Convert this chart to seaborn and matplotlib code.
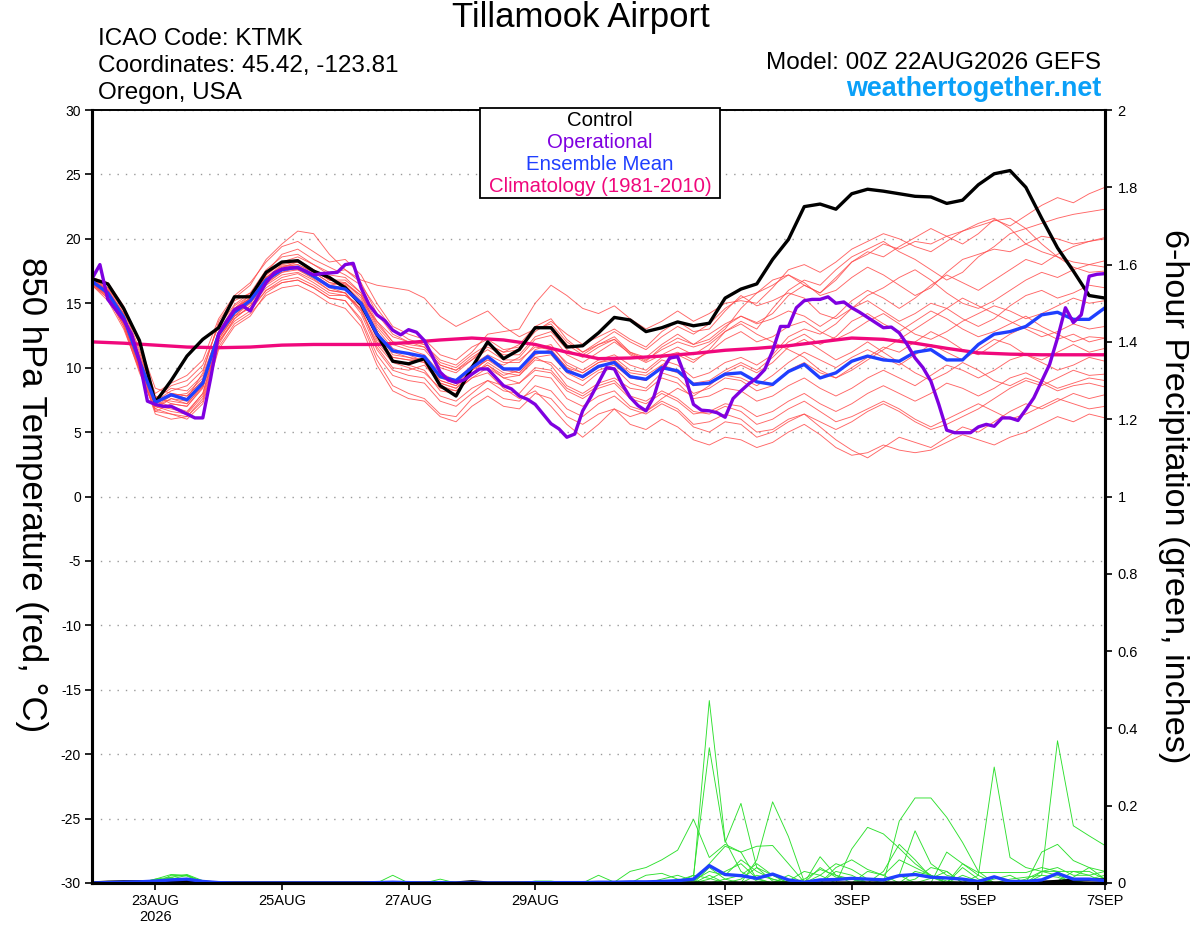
import numpy as np
import pandas as pd
import seaborn as sns
import matplotlib.pyplot as plt
from matplotlib.patches import Rectangle

sns.set_theme(style="white")
plt.rcParams['font.family'] = ['Liberation Sans', 'DejaVu Sans']
plt.rcParams['axes.unicode_minus'] = False
plt.rcParams['text.color'] = 'black'
plt.rcParams['xtick.color'] = 'black'
plt.rcParams['ytick.color'] = 'black'

# forecast hours after 00Z 22AUG2026
hours = list(range(0, 385, 6))
op_hours = list(range(0, 385, 3))
clim_hours = list(range(0, 385, 12))

tick_hours = [24, 72, 120, 168, 240, 288, 336, 384]
tick_labels = ['23AUG\n2026', '25AUG', '27AUG', '29AUG', '1SEP', '3SEP', '5SEP', '7SEP']
temp_ticks = list(range(-30, 31, 5))
precip_ticks = [0, 0.2, 0.4, 0.6, 0.8, 1, 1.2, 1.4, 1.6, 1.8, 2]
precip_tick_labels = ['0', '0.2', '0.4', '0.6', '0.8', '1', '1.2', '1.4', '1.6', '1.8', '2']

# 850 hPa temperature (C)
control_temp = [16.9, 16.5, 14.6, 12.1, 7.3, 9.0, 10.9, 12.2, 13.1, 15.5, 15.5, 17.4, 18.2, 18.3, 17.5, 17.0,
                16.2, 14.9, 12.6, 10.5, 10.3, 10.7, 8.6, 7.8, 10.0, 12.0, 10.7, 11.4, 13.1, 13.1, 11.6, 11.7,
                12.7, 13.9, 13.7, 12.8, 13.1, 13.55, 13.25, 13.45, 15.4, 16.1, 16.5, 18.4, 19.95, 22.5, 22.7, 22.3,
                23.5, 23.85, 23.7, 23.5, 23.3, 23.25, 22.75, 23.0, 24.2, 25.05, 25.3, 24.0, 21.6, 19.3, 17.5, 15.6,
                15.4]

mean_temp = [16.7, 15.8, 13.9, 10.5, 7.3, 7.9, 7.5, 8.8, 12.6, 14.3, 15.2, 16.8, 17.6, 17.8, 17.1, 16.3,
             16.1, 15.0, 12.6, 11.3, 11.1, 10.85, 9.3, 9.0, 10.0, 10.85, 9.9, 9.9, 11.2, 11.2, 9.75, 9.3,
             10.1, 10.4, 9.3, 9.1, 10.0, 9.75, 8.7, 8.8, 9.5, 9.6, 8.9, 8.7, 9.7, 10.25, 9.2, 9.6,
             10.5, 10.9, 10.6, 10.5, 11.2, 11.4, 10.6, 10.6, 11.8, 12.6, 12.8, 13.2, 14.1, 14.3, 13.75, 13.75,
             14.65]

operational_temp = [16.9, 18.0, 15.3, 14.5, 13.7, 12.6, 10.5, 7.4, 7.15, 7.0, 7.0, 6.7, 6.4, 6.1, 6.1, 9.2,
                    12.6, 13.6, 14.5, 14.8, 14.4, 15.55, 16.6, 17.35, 17.65, 17.75, 17.75, 17.5, 17.2, 17.3, 17.35, 17.4,
                    18.0, 18.1, 16.2, 14.9, 14.1, 13.65, 12.9, 12.55, 12.95, 12.75, 12.1, 10.9, 9.65, 9.05, 8.85, 9.05,
                    9.5, 9.9, 9.9, 9.25, 8.6, 8.35, 7.8, 7.55, 7.15, 6.4, 5.65, 5.25, 4.6, 4.85, 6.65, 7.7,
                    8.85, 10.0, 9.9, 8.7, 7.7, 7.05, 6.65, 7.75, 9.75, 10.75, 10.85, 9.25, 7.15, 6.7, 6.65, 6.5,
                    6.15, 7.6, 8.2, 8.75, 9.2, 9.85, 11.3, 13.2, 13.2, 14.65, 15.2, 15.3, 15.3, 15.5, 15.0, 15.1,
                    14.65, 14.3, 13.9, 13.5, 13.1, 13.15, 12.7, 11.8, 10.75, 10.0, 8.95, 7.15, 5.15, 4.95, 4.95, 4.95,
                    5.4, 5.6, 5.45, 6.1, 6.1, 5.9, 6.75, 7.65, 8.95, 10.25, 12.3, 14.65, 13.5, 14.1, 17.1, 17.25,
                    17.3]

climatology = [12.0, 11.9, 11.75, 11.6, 11.55, 11.6, 11.75, 11.8, 11.8, 11.8, 11.95, 12.15, 12.3, 12.15, 11.8, 11.2,
               10.7, 10.75, 10.9, 11.1, 11.35, 11.5, 11.7, 12.0, 12.3, 12.2, 11.9, 11.5, 11.15, 11.05, 11.0, 11.0,
               11.0]

temp_members = [
    [16.8, 16.0, 14.0, 11.0, 7.8, 7.2, 7.0, 8.5, 12.8, 14.6, 15.4, 17.2, 18.1, 18.4, 17.6, 16.8, 16.5, 15.6, 13.0, 11.5, 11.0,
     10.5, 9.0, 8.6, 9.8, 10.6, 10.2, 10.8, 12.2, 12.5, 11.0, 10.4, 11.2, 12.0, 11.1, 10.5, 11.6, 12.3, 11.8, 12.6, 13.4,
     14.0, 13.5, 14.2, 15.6, 16.4, 15.8, 16.8, 18.2, 19.0, 18.6, 19.4, 20.1, 20.8, 20.2, 19.6, 20.4, 21.5, 21.0, 21.8, 22.6, 23.2, 22.8, 23.5, 24.0],
    [16.5, 15.5, 13.6, 10.2, 7.0, 6.8, 6.5, 8.0, 12.2, 14.0, 15.0, 16.5, 17.4, 17.6, 16.9, 16.0, 15.8, 14.5, 12.0, 10.6, 10.2,
     9.8, 8.2, 8.0, 9.5, 10.8, 10.0, 9.6, 11.0, 11.4, 10.0, 9.2, 10.0, 10.6, 9.4, 9.0, 10.2, 11.0, 10.4, 11.4, 12.8,
     13.6, 13.0, 14.6, 16.0, 16.8, 16.4, 17.6, 18.6, 19.2, 19.8, 19.0, 18.4, 17.6, 16.8, 17.4, 18.6, 19.4, 20.4, 20.8, 21.2, 21.6, 21.9, 22.1, 22.3],
    [17.0, 16.6, 14.8, 11.8, 8.4, 8.0, 7.6, 9.6, 13.6, 15.4, 16.4, 18.4, 19.6, 20.6, 20.4, 18.8, 17.6, 16.8, 16.4, 16.2, 16.0,
     15.4, 14.0, 13.2, 13.8, 14.4, 13.2, 12.4, 13.0, 13.2, 11.8, 11.0, 11.8, 12.4, 11.2, 10.6, 11.4, 12.0, 11.6, 12.0, 13.0,
     14.6, 15.8, 16.4, 17.2, 16.6, 15.6, 16.0, 17.0, 17.8, 17.2, 16.4, 15.6, 16.2, 17.4, 18.4, 18.8, 19.2, 19.0, 19.6, 20.2, 20.0, 19.6, 19.8, 20.1],
    [16.6, 15.6, 13.4, 10.0, 7.2, 7.8, 8.0, 9.2, 12.8, 14.8, 15.6, 17.4, 18.8, 19.2, 18.4, 17.8, 17.2, 16.4, 14.6, 13.0, 12.2,
     11.8, 10.6, 10.2, 11.2, 12.6, 12.8, 13.0, 15.0, 16.4, 15.6, 14.6, 14.2, 14.8, 13.8, 13.0, 13.6, 14.4, 13.6, 14.2, 15.0,
     15.2, 15.0, 16.2, 17.6, 18.0, 17.4, 18.2, 19.2, 19.8, 20.4, 20.0, 19.4, 19.0, 19.8, 20.6, 21.2, 21.6, 20.8, 19.6, 19.0, 18.6, 18.2, 18.0, 18.3],
    [16.9, 16.2, 14.4, 11.2, 7.6, 8.6, 9.0, 10.2, 13.2, 14.9, 15.8, 17.0, 17.9, 18.0, 17.4, 16.6, 16.4, 15.2, 13.6, 12.0, 11.6,
     11.4, 10.0, 9.6, 10.6, 11.8, 11.2, 11.4, 12.8, 13.6, 12.6, 11.8, 12.4, 13.0, 12.2, 11.6, 12.8, 13.6, 12.8, 13.0, 14.4,
     15.6, 14.8, 15.2, 15.8, 15.4, 14.2, 13.8, 14.6, 15.6, 16.2, 17.0, 17.6, 16.8, 15.8, 15.0, 14.6, 15.2, 16.0, 16.8, 17.4, 17.0, 17.6, 18.0, 17.8],
    [16.4, 15.2, 13.0, 9.8, 6.6, 7.2, 7.0, 8.4, 12.0, 13.8, 14.8, 16.2, 17.0, 17.3, 16.6, 15.8, 15.6, 14.6, 11.6, 10.0, 9.8,
     10.2, 8.8, 8.4, 9.6, 10.2, 9.4, 9.8, 11.4, 11.8, 10.2, 9.6, 10.4, 10.8, 9.8, 9.6, 10.6, 10.2, 9.2, 9.6, 10.4,
     10.8, 10.2, 11.0, 12.4, 13.0, 12.6, 13.4, 14.6, 15.2, 14.4, 13.6, 14.2, 15.0, 14.6, 13.8, 13.2, 13.8, 14.8, 15.6, 16.0, 15.4, 15.8, 16.4, 16.2],
    [16.6, 15.8, 14.2, 10.8, 7.4, 8.2, 8.6, 9.8, 13.4, 15.2, 15.8, 17.6, 18.6, 18.8, 18.0, 17.2, 17.0, 15.8, 13.2, 11.8, 11.4,
     11.0, 9.6, 9.0, 10.2, 11.0, 10.4, 10.4, 11.8, 11.6, 10.4, 9.8, 10.6, 11.0, 10.2, 9.8, 10.8, 11.2, 10.6, 11.2, 12.2,
     12.8, 12.0, 12.4, 13.2, 13.6, 12.8, 12.2, 12.8, 13.6, 14.2, 13.4, 12.6, 12.2, 12.8, 13.6, 14.2, 14.8, 14.4, 13.8, 14.2, 14.8, 15.4, 15.0, 15.2],
    [16.8, 16.0, 14.0, 10.6, 7.0, 7.6, 7.2, 8.6, 12.4, 14.2, 15.0, 16.6, 17.4, 17.8, 17.2, 16.4, 16.2, 15.0, 12.2, 10.8, 10.6,
     10.4, 8.8, 8.4, 9.4, 10.4, 9.6, 9.4, 10.6, 10.4, 9.2, 8.6, 9.6, 10.0, 8.8, 8.4, 9.6, 9.2, 8.0, 8.4, 9.2,
     9.0, 8.2, 8.6, 9.8, 10.4, 9.6, 9.2, 10.0, 10.8, 11.6, 11.2, 12.0, 12.8, 12.2, 11.4, 11.0, 11.8, 12.6, 13.2, 12.8, 12.2, 12.6, 12.0, 12.3],
    [16.7, 15.9, 13.8, 10.4, 7.4, 7.0, 6.6, 8.0, 12.2, 14.0, 15.2, 16.8, 17.6, 17.6, 17.0, 16.2, 15.8, 14.4, 11.8, 10.4, 10.0,
     9.6, 8.4, 8.2, 9.2, 10.0, 9.2, 9.4, 10.8, 11.0, 9.6, 9.0, 9.8, 10.2, 9.2, 9.0, 10.0, 9.6, 8.6, 8.8, 9.4,
     9.2, 8.6, 9.4, 10.4, 11.2, 10.6, 10.0, 10.8, 11.4, 10.8, 10.2, 11.0, 11.8, 11.2, 10.6, 11.4, 12.2, 11.8, 11.0, 10.6, 11.2, 11.8, 11.2, 11.5],
    [16.5, 15.4, 13.2, 9.6, 6.8, 7.6, 7.4, 8.8, 12.4, 14.0, 14.6, 16.0, 16.8, 17.0, 16.4, 15.6, 15.6, 14.8, 12.4, 11.2, 10.8,
     10.6, 9.2, 8.8, 9.8, 10.6, 9.8, 9.6, 10.8, 10.2, 8.6, 8.0, 8.8, 9.2, 8.4, 8.2, 9.2, 8.8, 7.6, 7.8, 8.4,
     8.2, 7.4, 7.8, 8.6, 9.2, 8.4, 7.8, 8.4, 9.2, 9.8, 9.2, 8.6, 9.4, 10.2, 9.8, 9.2, 9.8, 10.6, 11.0, 10.4, 9.8, 10.2, 10.8, 10.5],
    [16.8, 16.1, 14.2, 10.6, 7.2, 8.0, 7.8, 9.0, 12.6, 14.4, 15.4, 17.0, 17.8, 18.0, 17.4, 16.6, 16.4, 15.0, 12.4, 10.8, 10.6,
     10.6, 9.0, 8.6, 9.6, 10.2, 9.2, 8.8, 9.8, 9.6, 8.2, 7.6, 8.4, 8.8, 7.6, 7.2, 8.0, 7.4, 6.4, 6.6, 7.2,
     7.0, 6.2, 6.6, 7.4, 8.0, 7.2, 6.6, 7.2, 8.0, 8.6, 8.0, 7.4, 8.0, 8.8, 8.4, 7.8, 8.4, 9.2, 9.6, 9.0, 8.4, 8.8, 9.2, 9.0],
    [16.6, 15.6, 13.6, 10.0, 6.8, 6.4, 6.2, 7.6, 11.8, 13.8, 14.8, 16.4, 17.2, 17.4, 16.8, 16.0, 15.8, 14.2, 11.4, 9.8, 9.4,
     9.2, 7.8, 7.4, 8.4, 9.0, 8.2, 8.0, 9.4, 9.2, 7.6, 7.0, 7.8, 8.2, 7.0, 6.6, 7.4, 6.8, 5.6, 5.8, 6.4,
     6.0, 5.0, 5.2, 6.0, 6.4, 5.4, 4.4, 3.6, 3.0, 3.8, 4.6, 4.2, 3.8, 4.6, 5.4, 5.0, 5.8, 6.6, 7.2, 6.8, 7.4, 8.0, 7.6, 7.9],
    [16.7, 15.8, 13.8, 10.2, 7.0, 6.6, 6.4, 7.8, 12.0, 13.6, 14.4, 16.0, 16.6, 16.8, 16.2, 15.4, 15.2, 13.8, 11.0, 9.4, 9.0,
     8.8, 7.4, 7.0, 8.0, 9.0, 8.6, 8.8, 10.0, 9.8, 8.4, 7.8, 8.6, 9.0, 7.8, 7.4, 8.2, 7.6, 6.6, 6.4, 7.0,
     6.6, 5.6, 6.0, 6.8, 7.4, 6.6, 5.8, 6.2, 6.8, 7.4, 6.8, 6.0, 5.4, 6.0, 6.6, 7.2, 6.6, 6.0, 6.4, 7.0, 7.6, 7.2, 6.8, 7.0],
    [16.4, 15.4, 13.4, 10.0, 6.4, 6.0, 6.2, 7.4, 11.6, 13.4, 14.2, 15.6, 16.2, 16.4, 15.8, 15.0, 14.6, 13.2, 10.2, 8.2, 7.6,
     7.4, 6.2, 5.8, 7.0, 7.8, 7.0, 6.8, 8.0, 7.6, 6.2, 5.6, 6.4, 6.8, 5.6, 5.2, 6.0, 5.4, 4.4, 4.0, 4.6,
     4.4, 3.8, 4.2, 5.0, 5.6, 4.8, 3.8, 3.2, 3.4, 4.0, 3.6, 3.4, 3.6, 4.2, 4.8, 4.4, 4.0, 4.6, 5.0, 5.6, 6.2, 5.8, 6.4, 6.1],
    [16.9, 16.0, 13.8, 10.4, 7.6, 8.4, 8.2, 9.4, 12.8, 14.6, 15.4, 17.0, 17.8, 18.2, 17.6, 16.8, 16.6, 15.4, 12.8, 11.0, 10.8,
     10.4, 8.6, 8.2, 9.2, 9.6, 8.4, 7.6, 8.2, 7.0, 5.6, 4.6, 5.6, 6.8, 6.2, 6.6, 7.6, 8.4, 7.8, 8.6, 9.6,
     10.2, 9.6, 10.4, 11.6, 12.2, 11.4, 10.6, 11.2, 12.0, 11.2, 10.4, 9.6, 9.0, 9.6, 10.4, 9.8, 9.0, 8.6, 9.2, 8.8, 8.2, 8.6, 8.8, 8.5],
    [16.6, 15.6, 13.4, 10.0, 7.0, 7.8, 7.6, 8.8, 12.6, 14.6, 15.6, 17.2, 18.2, 18.6, 18.0, 17.4, 17.6, 16.6, 14.2, 12.6, 12.0,
     11.8, 10.4, 10.0, 11.0, 11.8, 11.2, 11.8, 13.2, 13.8, 12.2, 11.2, 11.8, 12.2, 11.0, 10.4, 11.0, 11.6, 11.0, 11.8, 12.8,
     13.4, 12.6, 12.0, 11.4, 10.8, 9.8, 9.2, 9.8, 10.6, 11.4, 12.2, 13.0, 13.8, 14.6, 15.4, 14.8, 14.2, 13.6, 13.0, 12.4, 12.8, 13.4, 13.0, 13.2],
    [16.8, 16.2, 14.6, 11.4, 8.0, 8.8, 9.4, 10.6, 13.8, 15.6, 16.6, 18.2, 19.4, 19.8, 19.0, 18.2, 18.4, 17.2, 15.0, 13.2, 12.6,
     12.2, 11.0, 10.6, 11.6, 12.2, 11.4, 11.6, 13.0, 13.4, 12.0, 11.2, 12.0, 12.8, 12.0, 11.4, 12.4, 13.2, 12.6, 13.4, 14.6,
     15.4, 15.8, 16.8, 17.2, 16.4, 15.8, 17.0, 18.2, 18.8, 19.6, 19.2, 19.8, 19.6, 20.2, 20.6, 21.0, 21.4, 21.6, 20.8, 19.6, 18.6, 17.8, 17.4, 17.5],
    [16.5, 15.6, 13.2, 9.8, 6.6, 6.4, 6.0, 7.2, 11.4, 13.2, 14.0, 15.8, 16.6, 16.8, 16.2, 15.4, 15.2, 13.6, 10.6, 8.6, 8.0,
     7.6, 6.4, 6.2, 7.6, 8.4, 7.6, 7.4, 8.6, 8.2, 6.8, 6.2, 7.2, 7.8, 6.8, 6.4, 7.2, 6.6, 5.4, 5.0, 5.8,
     5.6, 4.6, 5.0, 5.8, 6.4, 5.8, 5.2, 5.8, 6.6, 7.2, 6.6, 5.8, 5.2, 5.6, 6.2, 6.8, 7.6, 8.4, 9.0, 8.6, 9.2, 9.8, 9.4, 9.5],
    [16.8, 16.0, 14.2, 10.8, 7.6, 7.4, 7.2, 8.6, 12.6, 14.4, 15.2, 16.8, 17.6, 17.8, 17.2, 16.4, 16.6, 15.6, 13.4, 12.0, 11.8,
     11.6, 10.2, 9.8, 10.6, 11.4, 10.6, 10.6, 11.6, 11.4, 10.0, 9.6, 10.4, 10.6, 9.6, 9.4, 10.2, 9.8, 8.8, 9.0, 9.8,
     10.4, 9.8, 10.8, 12.0, 12.6, 11.8, 12.4, 13.6, 14.2, 13.4, 12.8, 13.6, 14.4, 13.8, 13.0, 12.4, 12.8, 13.4, 14.0, 13.2, 12.6, 12.0, 12.4, 12.3],
    [16.7, 15.9, 14.0, 10.8, 7.4, 8.0, 7.8, 9.0, 12.8, 14.6, 15.4, 17.0, 18.0, 18.2, 17.6, 16.8, 16.8, 15.8, 13.6, 12.4, 12.0,
     11.6, 10.2, 9.8, 10.8, 11.6, 11.0, 11.0, 12.4, 12.8, 11.4, 10.8, 11.6, 12.2, 11.2, 10.8, 11.8, 12.6, 11.8, 12.2, 13.2,
     14.0, 13.4, 13.8, 14.4, 14.0, 13.2, 14.0, 15.2, 16.0, 15.4, 14.6, 15.4, 16.4, 17.2, 16.6, 16.0, 16.8, 17.6, 18.4, 18.0, 18.8, 19.4, 19.8, 20.0],
]

# 6-hour precipitation (inches)
control_precip = [0, 0.002, 0.003, 0.003, 0.002, 0.003, 0.005, 0.002, 0, 0,
                  0, 0, 0, 0, 0, 0, 0, 0, 0, 0,
                  0, 0, 0, 0, 0.003, 0, 0, 0, 0, 0,
                  0, 0, 0, 0, 0, 0, 0, 0, 0, 0,
                  0, 0, 0, 0, 0, 0, 0, 0, 0, 0,
                  0, 0, 0, 0, 0, 0, 0, 0, 0, 0,
                  0.002, 0.004, 0.007, 0.008, 0.008]

mean_precip = [0, 0.001, 0.002, 0.003, 0.005, 0.008, 0.01, 0.004, 0.001, 0,
               0, 0, 0, 0, 0, 0, 0, 0, 0.001, 0.002,
               0.001, 0, 0.001, 0, 0, 0, 0, 0, 0.001, 0.001,
               0.001, 0.001, 0.002, 0.002, 0.003, 0.003, 0.004, 0.006, 0.01, 0.045,
               0.022, 0.019, 0.012, 0.023, 0.008, 0.002, 0.008, 0.009, 0.012, 0.01,
               0.008, 0.019, 0.022, 0.015, 0.013, 0.01, 0.004, 0.016, 0.004, 0.004,
               0.008, 0.025, 0.01, 0.01, 0.006]

precip_members = [
    [0, 0, 0, 0, 0, 0.02, 0.018, 0, 0, 0,  0, 0, 0, 0, 0, 0, 0, 0, 0, 0,  0, 0, 0, 0, 0, 0, 0, 0, 0, 0,
     0, 0, 0, 0, 0, 0, 0, 0, 0.01, 0.472,  0.11, 0.03, 0.005, 0, 0, 0, 0, 0, 0, 0,  0, 0, 0, 0, 0, 0, 0, 0, 0, 0,
     0.02, 0.368, 0.148, 0.122, 0.097],
    [0, 0, 0, 0, 0.01, 0.022, 0.02, 0.004, 0, 0,  0, 0, 0, 0, 0, 0, 0, 0, 0, 0,  0, 0, 0, 0, 0, 0, 0, 0, 0, 0,
     0, 0, 0, 0, 0, 0, 0, 0, 0.02, 0.35,  0.105, 0.206, 0.04, 0.005, 0, 0, 0, 0, 0, 0,  0, 0, 0, 0, 0, 0, 0, 0, 0, 0,
     0, 0, 0, 0, 0],
    [0, 0, 0, 0, 0, 0.015, 0.022, 0.006, 0, 0,  0, 0, 0, 0, 0, 0, 0, 0, 0, 0,  0, 0, 0, 0, 0, 0, 0, 0, 0, 0,
     0, 0, 0, 0, 0, 0, 0, 0, 0, 0,  0, 0, 0.06, 0.21, 0.12, 0.003, 0, 0, 0, 0,  0, 0, 0, 0, 0, 0, 0.02, 0.30, 0.066, 0.04,
     0.03, 0.03, 0.005, 0, 0],
    [0, 0, 0, 0, 0, 0, 0, 0, 0, 0,  0, 0, 0, 0, 0, 0, 0, 0, 0, 0,  0, 0, 0, 0, 0, 0, 0, 0, 0, 0,
     0, 0, 0.02, 0.002, 0.03, 0.04, 0.06, 0.085, 0.165, 0.066,  0.1, 0.08, 0.01, 0, 0, 0, 0, 0, 0, 0,  0, 0, 0, 0, 0, 0, 0, 0, 0, 0,
     0, 0, 0, 0, 0],
    [0, 0, 0, 0, 0.008, 0.012, 0.01, 0, 0, 0,  0, 0, 0, 0, 0, 0, 0, 0, 0, 0,  0, 0, 0, 0, 0, 0, 0, 0, 0, 0,
     0, 0, 0, 0, 0, 0.02, 0.025, 0.01, 0.005, 0.05,  0.095, 0.08, 0.095, 0.097, 0.05, 0.002, 0, 0, 0, 0,  0, 0, 0, 0, 0, 0, 0, 0, 0, 0,
     0, 0, 0, 0, 0],
    [0, 0, 0, 0, 0, 0, 0, 0, 0, 0,  0, 0, 0, 0, 0, 0, 0, 0, 0, 0.02,  0, 0, 0, 0, 0, 0, 0, 0, 0, 0,
     0, 0, 0, 0, 0, 0, 0, 0, 0, 0,  0, 0, 0, 0, 0, 0, 0.068, 0.02, 0.01, 0,  0, 0.16, 0.22, 0.22, 0.17, 0.105, 0.03, 0, 0, 0,
     0, 0, 0, 0, 0],
    [0, 0, 0, 0, 0, 0, 0, 0, 0, 0,  0, 0, 0, 0, 0, 0, 0, 0, 0, 0,  0, 0, 0, 0, 0, 0, 0, 0, 0, 0,
     0, 0, 0, 0, 0, 0, 0, 0, 0, 0,  0, 0, 0, 0, 0, 0, 0, 0, 0.088, 0.144,  0.127, 0.09, 0.05, 0.02, 0.005, 0, 0, 0, 0, 0,
     0, 0, 0, 0, 0],
    [0, 0, 0, 0, 0, 0, 0, 0, 0, 0,  0, 0, 0, 0, 0, 0, 0, 0, 0, 0,  0, 0, 0.01, 0, 0, 0, 0, 0, 0, 0,
     0, 0, 0, 0, 0, 0, 0, 0, 0, 0,  0, 0, 0, 0, 0, 0, 0, 0, 0, 0,  0, 0.02, 0.135, 0.05, 0.02, 0.01, 0, 0, 0, 0,
     0.08, 0.1, 0.058, 0.04, 0.01],
    [0, 0, 0, 0, 0, 0, 0, 0, 0, 0,  0, 0, 0, 0, 0, 0, 0, 0, 0, 0,  0, 0, 0, 0, 0, 0, 0, 0, 0.005, 0.005,
     0, 0, 0, 0, 0, 0, 0, 0, 0, 0,  0, 0, 0, 0, 0.02, 0, 0.02, 0.05, 0.035, 0.01,  0, 0, 0, 0, 0, 0.05, 0.027, 0.027, 0.027, 0.027,
     0.04, 0.03, 0.03, 0.03, 0.01],
    [0, 0, 0, 0, 0, 0.01, 0.012, 0, 0, 0,  0, 0, 0, 0, 0, 0, 0, 0, 0, 0,  0, 0, 0, 0, 0, 0, 0, 0, 0, 0,
     0, 0, 0, 0, 0, 0, 0, 0, 0, 0,  0, 0, 0, 0, 0, 0, 0, 0.04, 0.06, 0.035,  0.02, 0, 0, 0, 0.08, 0.05, 0.02, 0, 0, 0,
     0, 0, 0, 0, 0],
    [0, 0, 0, 0, 0, 0, 0, 0, 0, 0,  0, 0, 0, 0, 0, 0, 0, 0, 0, 0,  0, 0, 0, 0, 0, 0, 0, 0, 0, 0,
     0, 0, 0, 0, 0, 0, 0, 0, 0.006, 0.03,  0.02, 0.06, 0.03, 0.01, 0, 0, 0, 0, 0, 0.03,  0.02, 0.06, 0.04, 0.02, 0, 0, 0, 0, 0, 0,
     0, 0, 0, 0, 0],
    [0, 0, 0, 0, 0, 0, 0, 0, 0, 0,  0, 0, 0, 0, 0, 0, 0, 0, 0, 0,  0, 0, 0, 0, 0, 0, 0, 0, 0, 0,
     0, 0, 0, 0, 0, 0, 0, 0, 0, 0,  0.01, 0.02, 0.05, 0.02, 0, 0, 0, 0, 0, 0,  0, 0, 0.03, 0.02, 0, 0, 0, 0, 0, 0,
     0.03, 0.04, 0.02, 0.02, 0.03],
    [0, 0, 0, 0, 0, 0, 0.008, 0, 0, 0,  0, 0, 0, 0, 0, 0, 0, 0, 0, 0,  0, 0, 0, 0, 0, 0, 0, 0, 0, 0,
     0, 0, 0, 0, 0, 0, 0, 0, 0, 0.01,  0.03, 0.05, 0.012, 0, 0, 0, 0, 0, 0, 0,  0, 0, 0, 0, 0, 0, 0, 0.01, 0.02, 0,
     0, 0, 0, 0.01, 0.02],
    [0, 0, 0, 0, 0, 0, 0, 0, 0, 0,  0, 0, 0, 0, 0, 0, 0, 0, 0, 0,  0, 0, 0, 0, 0, 0, 0, 0, 0, 0,
     0, 0, 0, 0, 0, 0, 0, 0, 0, 0,  0, 0.01, 0.04, 0.02, 0, 0, 0.04, 0.015, 0.01, 0,  0, 0, 0, 0, 0, 0.04, 0.01, 0, 0, 0,
     0, 0, 0, 0, 0],
    [0, 0, 0, 0, 0, 0, 0, 0, 0, 0,  0, 0, 0, 0, 0, 0, 0, 0, 0, 0,  0, 0, 0, 0, 0, 0, 0, 0, 0, 0,
     0, 0, 0, 0, 0, 0, 0.01, 0.02, 0.006, 0,  0, 0, 0, 0, 0.005, 0.03, 0.02, 0, 0, 0,  0.03, 0.1, 0.06, 0.015, 0, 0, 0, 0, 0, 0,
     0, 0, 0, 0, 0],
    [0, 0, 0, 0, 0, 0, 0, 0, 0, 0,  0, 0, 0, 0, 0, 0, 0, 0, 0, 0,  0, 0, 0, 0, 0, 0, 0, 0, 0, 0,
     0, 0, 0, 0, 0, 0, 0, 0, 0, 0.02,  0, 0, 0, 0, 0, 0, 0, 0.03, 0.02, 0,  0, 0, 0, 0, 0, 0, 0, 0, 0.01, 0.015,
     0.02, 0.015, 0, 0, 0],
    [0, 0, 0, 0, 0, 0, 0, 0, 0, 0,  0, 0, 0, 0, 0, 0, 0, 0, 0, 0,  0, 0, 0, 0, 0, 0, 0, 0, 0, 0,
     0, 0, 0, 0, 0, 0, 0, 0, 0, 0,  0, 0, 0.02, 0.01, 0, 0, 0, 0, 0, 0,  0, 0, 0.01, 0.04, 0.03, 0, 0, 0, 0, 0,
     0, 0.005, 0.03, 0.02, 0],
    [0, 0, 0, 0, 0, 0, 0, 0, 0, 0,  0, 0, 0, 0, 0, 0, 0, 0, 0, 0,  0, 0, 0, 0, 0, 0, 0, 0, 0, 0,
     0, 0, 0, 0, 0, 0, 0, 0, 0, 0.04,  0.01, 0, 0, 0, 0, 0, 0, 0, 0, 0.01,  0.01, 0.02, 0, 0, 0, 0, 0, 0, 0, 0,
     0, 0, 0.015, 0.04, 0.03],
    [0, 0, 0, 0, 0.01, 0.015, 0, 0, 0, 0,  0, 0, 0, 0, 0, 0, 0, 0, 0, 0,  0, 0, 0, 0, 0, 0, 0, 0, 0, 0,
     0, 0, 0, 0, 0, 0, 0, 0.006, 0.02, 0.012,  0, 0, 0, 0, 0, 0, 0, 0, 0, 0,  0, 0, 0, 0.012, 0.03, 0, 0, 0, 0, 0,
     0, 0, 0, 0, 0],
    [0, 0, 0, 0, 0, 0.01, 0.02, 0, 0, 0,  0, 0, 0, 0, 0, 0, 0, 0, 0, 0,  0, 0, 0, 0, 0, 0, 0, 0, 0, 0,
     0, 0, 0, 0, 0, 0, 0, 0, 0, 0,  0, 0, 0, 0, 0, 0.01, 0.035, 0.02, 0, 0,  0, 0, 0, 0, 0, 0.02, 0.005, 0, 0, 0.01,
     0.03, 0.02, 0, 0, 0],
]

RED = '#ff4a4a'
GREEN = '#2ee02e'
BLUE = '#1f3fff'
PURPLE = '#7f00e0'
PINK = '#f0087c'

temp_df = pd.DataFrame({
    'hour': np.tile(hours, len(temp_members)),
    'temp': np.concatenate(temp_members),
    'member': np.repeat(np.arange(len(temp_members)), len(hours)),
})
precip_df = pd.DataFrame({
    'hour': np.tile(hours, len(precip_members)),
    'precip': np.concatenate(precip_members),
    'member': np.repeat(np.arange(len(precip_members)), len(hours)),
})

fig = plt.figure(figsize=(12, 9.27), dpi=100)
ax = fig.add_axes([92 / 1200, 44 / 927, 1013 / 1200, 773 / 927])
ax2 = ax.twinx()

# temperature
sns.lineplot(data=temp_df, x='hour', y='temp', units='member', estimator=None,
             color=RED, linewidth=0.65, alpha=0.85, ax=ax, legend=False)
sns.lineplot(x=clim_hours, y=climatology, color=PINK, linewidth=2.4, ax=ax)
sns.lineplot(x=hours, y=control_temp, color='black', linewidth=2.4, ax=ax)
sns.lineplot(x=hours, y=mean_temp, color=BLUE, linewidth=2.4, ax=ax)
sns.lineplot(x=op_hours, y=operational_temp, color=PURPLE, linewidth=2.4, ax=ax)

# precipitation
sns.lineplot(data=precip_df, x='hour', y='precip', units='member', estimator=None,
             color=GREEN, linewidth=0.65, ax=ax2, legend=False)
sns.lineplot(x=hours, y=control_precip, color='black', linewidth=2.4, ax=ax2)
sns.lineplot(x=hours, y=mean_precip, color=BLUE, linewidth=2.4, ax=ax2)

ax.set_xlim(0, 384)
ax.set_ylim(-30, 30)
ax2.set_ylim(0, 2)

ax.set_xticks(tick_hours)
ax.set_xticklabels(tick_labels, fontsize=10.5)
ax.set_yticks(temp_ticks)
ax.set_yticklabels([str(t) for t in temp_ticks], fontsize=10)
ax2.set_yticks(precip_ticks)
ax2.set_yticklabels(precip_tick_labels, fontsize=10.5)
ax.set_xlabel('')
ax.set_ylabel('')
ax2.set_ylabel('')

ax.yaxis.grid(True, linestyle=(0, (1, 5)), color='#999999', linewidth=1)
ax.xaxis.grid(False)
ax2.grid(False)

for a in (ax, ax2):
    for side, spine in a.spines.items():
        spine.set_color('black')
        spine.set_linewidth(1.2 if side == 'top' else 2.2)
ax.tick_params(axis='both', which='major', direction='out', length=5, width=1.2,
               colors='black', left=True, bottom=True, pad=3)
ax2.tick_params(axis='y', direction='out', length=5, width=1.2, colors='black', right=True, pad=4)

# axis titles
fig.text(31 / 1200, 1 - 495 / 927, '850 hPa Temperature (red, \u00b0C)', rotation=270,
         ha='center', va='center', fontsize=25)
fig.text(1173 / 1200, 1 - 496 / 927, '6-hour Precipitation (green, inches)', rotation=270,
         ha='center', va='center', fontsize=24.7)

# header
fig.text(581 / 1200, 1 - 18 / 927, 'Tillamook Airport', ha='center', va='center', fontsize=25)
for label, ypix in [('ICAO Code: KTMK', 39), ('Coordinates: 45.42, -123.81', 66), ('Oregon, USA', 93)]:
    fig.text(98 / 1200, 1 - ypix / 927, label, ha='left', va='center', fontsize=17.5)
fig.text(1101 / 1200, 1 - 63 / 927, 'Model: 00Z 22AUG2026 GEFS', ha='right', va='center', fontsize=17.5)
fig.text(1101 / 1200, 1 - 89 / 927, 'weathertogether.net', ha='right', va='center',
         fontsize=19.4, fontweight='bold', color='#0aa0f8')

# legend box
fig.add_artist(Rectangle((480 / 1200, 1 - 198 / 927), 240 / 1200, 90 / 927,
                         transform=fig.transFigure, facecolor='white', edgecolor='black',
                         linewidth=1.3, zorder=5))
for label, color, ypix in [('Control', 'black', 121), ('Operational', PURPLE, 142),
                           ('Ensemble Mean', BLUE, 164), ('Climatology (1981-2010)', PINK, 186)]:
    fig.text(600 / 1200, 1 - ypix / 927, label, ha='center', va='center', fontsize=14.7,
             color=color, zorder=6)

fig.savefig('out.png', dpi=100)
